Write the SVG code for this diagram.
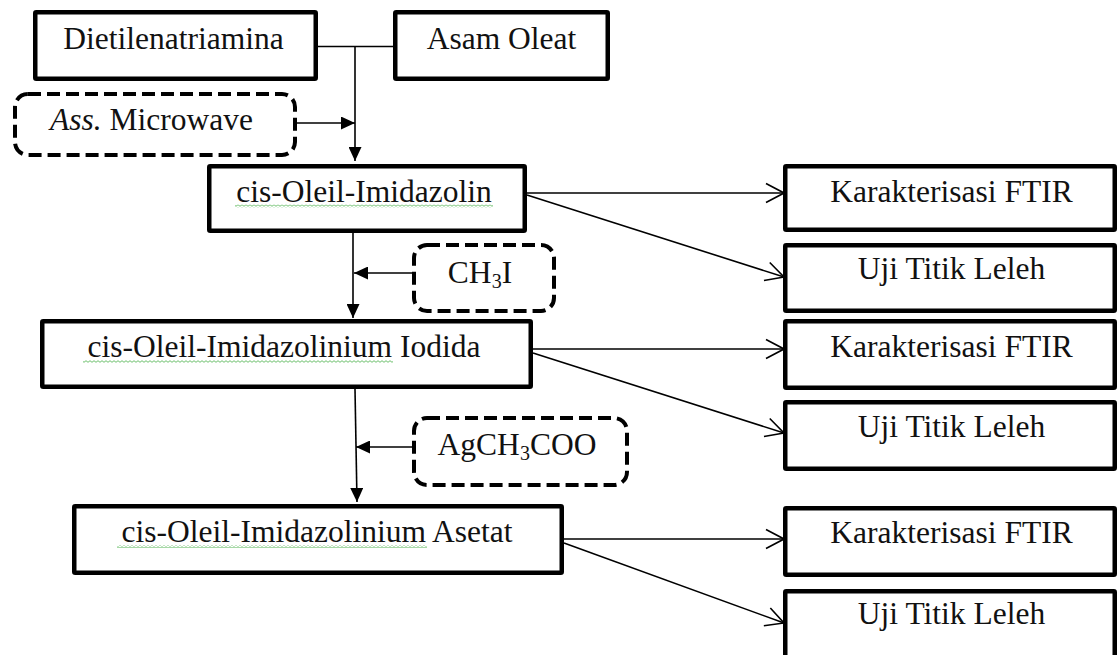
<svg xmlns="http://www.w3.org/2000/svg" width="1119" height="655" viewBox="0 0 1119 655">
<style>
.box{fill:#fff;stroke:#000;stroke-width:4.5}
.dash{fill:#fff;stroke:#000;stroke-width:4;stroke-dasharray:13 6}
.t{font-family:'Liberation Serif','Times New Roman',serif;font-size:31.5px;fill:#111;text-anchor:middle}
.ln{fill:none;stroke:#000;stroke-width:1.6}
.sq{fill:url(#squig)}
</style>
<defs>
<marker id="fa" markerUnits="userSpaceOnUse" markerWidth="14" markerHeight="13" viewBox="0 0 14 13" refX="14" refY="6.5" orient="auto">
<path d="M0,0 L14,6.5 L0,13 z" fill="#000"/>
</marker>
<marker id="oa" markerUnits="userSpaceOnUse" markerWidth="20" markerHeight="22" viewBox="0 0 20 22" refX="19" refY="11" orient="auto">
<path d="M1,1.5 L19,11 L1,20.5" fill="none" stroke="#000" stroke-width="1.6"/>
</marker>
<pattern id="squig" patternUnits="userSpaceOnUse" width="4" height="3">
<path d="M0,2.3 L2,0.7 L4,2.3" fill="none" stroke="#5cb85c" stroke-width="0.9"/>
</pattern>
</defs>

<g id="connectors">
<path class="ln" d="M318,46.5 H393"/>
<path class="ln" d="M355,46.5 V161" marker-end="url(#fa)"/>
<path class="ln" d="M297,123 H355" marker-end="url(#fa)"/>
<path class="ln" d="M353,233 V318" marker-end="url(#fa)"/>
<path class="ln" d="M412,273 H354" marker-end="url(#fa)"/>
<path class="ln" d="M355,389 L357,502" marker-end="url(#fa)"/>
<path class="ln" d="M412,447 H356" marker-end="url(#fa)"/>
<path class="ln" d="M527,193 H784" marker-end="url(#oa)"/>
<path class="ln" d="M527,195 L784,277" marker-end="url(#oa)"/>
<path class="ln" d="M533,349 H784" marker-end="url(#oa)"/>
<path class="ln" d="M533,353 L784,433" marker-end="url(#oa)"/>
<path class="ln" d="M564,539 H784" marker-end="url(#oa)"/>
<path class="ln" d="M564,543 L784,623" marker-end="url(#oa)"/>
</g>

<g id="dietilenatriamina">
<rect class="box" x="35.25" y="12.25" width="280.5" height="66.5" rx="1"/>
<text class="t" x="173.5" y="49">Dietilenatriamina</text>
</g>
<g id="asam-oleat">
<rect class="box" x="395.25" y="12.25" width="212.5" height="66.5" rx="1"/>
<text class="t" x="501.5" y="49">Asam Oleat</text>
</g>
<g id="microwave">
<rect class="dash" x="15" y="94" width="280" height="61" rx="13"/>
<text class="t" x="151.5" y="130"><tspan font-style="italic">Ass.</tspan> Microwave</text>
</g>
<g id="imidazolin">
<rect class="box" x="209.25" y="166.25" width="315.5" height="64.5" rx="1"/>
<rect class="sq" x="235" y="204.5" width="258" height="3"/>
<text class="t" x="364" y="202">cis-Oleil-Imidazolin</text>
</g>
<g id="ch3i">
<rect class="dash" x="414" y="245" width="140" height="66" rx="13"/>
<text class="t" x="480" y="283">CH<tspan font-size="20" dy="5">3</tspan><tspan dy="-5">I</tspan></text>
</g>
<g id="iodida">
<rect class="box" x="42.25" y="321.25" width="488.5" height="65.5" rx="1"/>
<rect class="sq" x="83" y="360" width="310" height="3"/>
<text class="t" x="284" y="357">cis-Oleil-Imidazolinium Iodida</text>
</g>
<g id="agch3coo">
<rect class="dash" x="414" y="418" width="213" height="67" rx="13"/>
<text class="t" x="517" y="455">AgCH<tspan font-size="20" dy="5">3</tspan><tspan dy="-5">COO</tspan></text>
</g>
<g id="asetat">
<rect class="box" x="74.25" y="506.25" width="487.5" height="66.5" rx="1"/>
<rect class="sq" x="117" y="545" width="310" height="3"/>
<text class="t" x="317" y="542">cis-Oleil-Imidazolinium Asetat</text>
</g>

<g id="ftir-1">
<rect class="box" x="785.25" y="166.25" width="329.5" height="63.5" rx="1"/>
<text class="t" x="951.5" y="202">Karakterisasi FTIR</text>
</g>
<g id="leleh-1">
<rect class="box" x="785.25" y="245.25" width="329.5" height="65.5" rx="1"/>
<text class="t" x="951.5" y="279">Uji Titik Leleh</text>
</g>
<g id="ftir-2">
<rect class="box" x="785.25" y="321.25" width="329.5" height="66.5" rx="1"/>
<text class="t" x="951.5" y="357">Karakterisasi FTIR</text>
</g>
<g id="leleh-2">
<rect class="box" x="785.25" y="402.25" width="329.5" height="66.5" rx="1"/>
<text class="t" x="951.5" y="437">Uji Titik Leleh</text>
</g>
<g id="ftir-3">
<rect class="box" x="785.25" y="508.25" width="329.5" height="66.5" rx="1"/>
<text class="t" x="951.5" y="543">Karakterisasi FTIR</text>
</g>
<g id="leleh-3">
<rect class="box" x="785.25" y="591.25" width="329.5" height="70" rx="1"/>
<text class="t" x="951.5" y="624">Uji Titik Leleh</text>
</g>
</svg>
